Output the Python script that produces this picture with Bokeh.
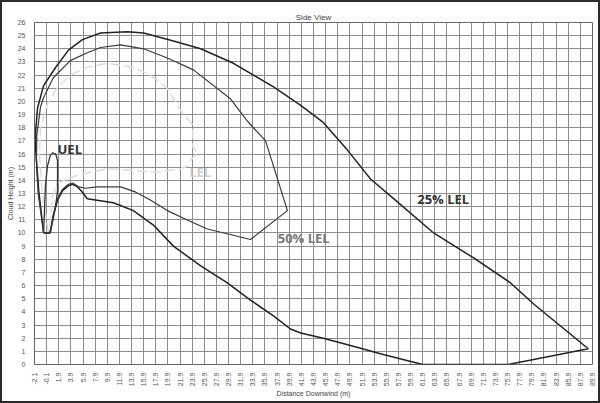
from bokeh.plotting import figure
from bokeh.models import FixedTicker, Label
from bokeh.embed import file_html
from bokeh.resources import INLINE

# ---- data ----
x_ticks = [-2.1, -0.1, 1.9, 3.9, 5.9, 7.9, 9.9, 11.9, 13.9, 15.9, 17.9, 19.9, 21.9, 23.9,
           25.9, 27.9, 29.9, 31.9, 33.9, 35.9, 37.9, 39.9, 41.9, 43.9, 45.9, 47.9, 49.9,
           51.9, 53.9, 55.9, 57.9, 59.9, 61.9, 63.9, 65.9, 67.9, 69.9, 71.9, 73.9, 75.9,
           77.9, 79.9, 81.9, 83.9, 85.9, 87.9, 89.9]
y_ticks = list(range(0, 27))

lel25_x = [-0.6, -1.4, -1.9, -1.9, -1.6, -0.6, 1.4, 3.5, 5.8, 8.8, 13.2, 15.9, 20.8, 25.3,
           30.7, 37.3, 41.8, 45.5, 49.5, 53.3, 57.4, 63.7, 70.3, 76.4, 80.2, 89.2, 76.0,
           61.9, 55.4, 50.0, 45.5, 41.8, 40.1, 37.3, 33.5, 29.7, 25.3, 20.8, 17.5, 14.2,
           10.9, 6.6, 5.8, 5.0, 4.2, 3.5, 2.5, 1.7, 1.0, 0.5, -0.6]
lel25_y = [10.0, 13.2, 16.3, 17.8, 19.5, 21.2, 22.6, 23.9, 24.7, 25.2, 25.3, 25.2, 24.6, 24.0,
           22.9, 21.1, 19.7, 18.4, 16.3, 14.1, 12.5, 10.0, 8.1, 6.2, 4.6, 1.2, 0.0,
           0.0, 0.76, 1.44, 2.0, 2.4, 2.7, 3.7, 4.9, 6.2, 7.5, 9.0, 10.6, 11.7,
           12.3, 12.6, 13.1, 13.5, 13.7, 13.6, 13.2, 12.5, 11.3, 10.0, 10.0]

lel50_x = [-0.6, -1.5, -1.8, -1.7, -1.1, -0.6, 1.0, 3.8, 6.6, 8.8, 12.1, 15.9, 19.8, 24.1,
           30.2, 33.0, 36.0, 39.6, 33.5, 30.0, 26.4, 23.0, 19.8, 17.0, 14.6, 12.1, 10.4,
           8.3, 6.3, 5.2, 4.2, 3.5, 2.5, 1.7, 1.0, 0.5]
lel50_y = [10.0, 13.0, 15.5, 17.5, 19.6, 20.3, 21.8, 23.1, 23.7, 24.1, 24.3, 24.0, 23.3, 22.4,
           20.2, 18.5, 17.0, 11.7, 9.5, 9.9, 10.3, 11.0, 11.7, 12.5, 13.1, 13.5, 13.5,
           13.5, 13.4, 13.5, 13.8, 13.7, 13.3, 12.6, 11.4, 10.0]

lel_x = [0.2, -0.8, -1.3, -1.1, 0.0, 1.7, 3.8, 6.6, 9.9, 14.2, 17.0, 19.8, 22.0, 24.0,
         24.0, 24.8, 23.6, 22.8, 22.0, 18.2, 15.9, 9.9, 5.0, 1.7, 0.9, 0.2]
lel_y = [10.0, 13.0, 16.0, 18.0, 19.8, 21.1, 22.0, 22.6, 22.9, 22.6, 22.0, 21.0, 19.3, 18.2,
         16.5, 16.1, 15.5, 15.0, 14.9, 14.6, 14.7, 14.9, 14.4, 13.8, 12.8, 10.0]

uel_x = [-0.6, -0.45, -0.3, 0.04, 0.5, 0.9, 1.4, 1.7, 1.7, 1.7, 1.4, 0.9, 0.4, -0.6]
uel_y = [10.0, 11.7, 13.6, 15.1, 15.9, 16.1, 16.0, 15.5, 14.4, 13.2, 12.1, 10.9, 10.0, 10.0]

labels_text = ["UEL", "LEL", "50% LEL", "25% LEL"]
labels_x = [1.7, 23.4, 38.0, 61.0]
labels_y = [16.35, 14.6, 9.6, 12.6]
labels_color = ["#333333", "#cfcfcf", "#777777", "#333333"]

# ---- figure ----
p = figure(width=600, height=403, output_backend="svg", toolbar_location=None,
           x_range=(-2.1, 89.9), y_range=(0, 26),
           min_border_left=34, min_border_right=8, min_border_top=22, min_border_bottom=39,
           title="Side View",
           styles={"background-color": "white",
                   "box-shadow": "inset 0 0 0 2px #2a2a2a"})
p.background_fill_color = "white"
p.border_fill_color = "white"
p.border_fill_alpha = 0
p.outline_line_color = "#666666"
p.outline_line_width = 1

p.title.align = "center"
p.title.text_font = "Liberation Sans"
p.title.text_font_size = "8px"
p.title.text_font_style = "normal"
p.title.text_color = "#444444"
p.title.offset = 0
p.title.standoff = 2

for ax in (p.xaxis[0], p.yaxis[0]):
    ax.axis_line_color = None
    ax.major_tick_line_color = None
    ax.minor_tick_line_color = None
    ax.major_label_text_font = "Liberation Sans"
    ax.major_label_text_font_size = "7px"
    ax.major_label_text_color = "#555555"
    ax.axis_label_text_font = "Liberation Sans"
    ax.axis_label_text_font_size = "7px"
    ax.axis_label_text_font_style = "normal"
    ax.axis_label_text_color = "#444444"
    ax.major_label_standoff = 3
    ax.axis_label_standoff = 1

p.xaxis.major_label_standoff = 2
p.xaxis.ticker = FixedTicker(ticks=x_ticks)
p.xaxis.major_label_overrides = {t: f"{t:.1f}" for t in x_ticks}
p.xaxis.major_label_orientation = 1.5708
p.xaxis.axis_label = "Distance Downwind (m)"
p.yaxis.ticker = FixedTicker(ticks=y_ticks)
p.yaxis.axis_label = "Cloud Height (m)"

p.xgrid.ticker = FixedTicker(ticks=x_ticks)
p.ygrid.ticker = FixedTicker(ticks=y_ticks)
for g in (p.xgrid[0], p.ygrid[0]):
    g.grid_line_color = "#8c8c8c"
    g.grid_line_width = 1
    g.grid_line_alpha = 1.0

# ---- curves ----
p.line(lel_x, lel_y, line_color="#dcdcdc", line_width=1.5, line_dash="10 4")
p.line(lel25_x, lel25_y, line_color="#222222", line_width=1.5)
p.line(lel50_x, lel50_y, line_color="#3a3a3a", line_width=1.2)
p.line(uel_x, uel_y, line_color="#333333", line_width=1.3)

for t, x, y, c in zip(labels_text, labels_x, labels_y, labels_color):
    p.add_layout(Label(x=x, y=y, text=t, text_color=c, text_font="Open Sans",
                       text_font_size="13px", text_font_style="bold",
                       text_baseline="middle", text_align="left"))

open("out.html", "w").write(file_html(p, INLINE))
